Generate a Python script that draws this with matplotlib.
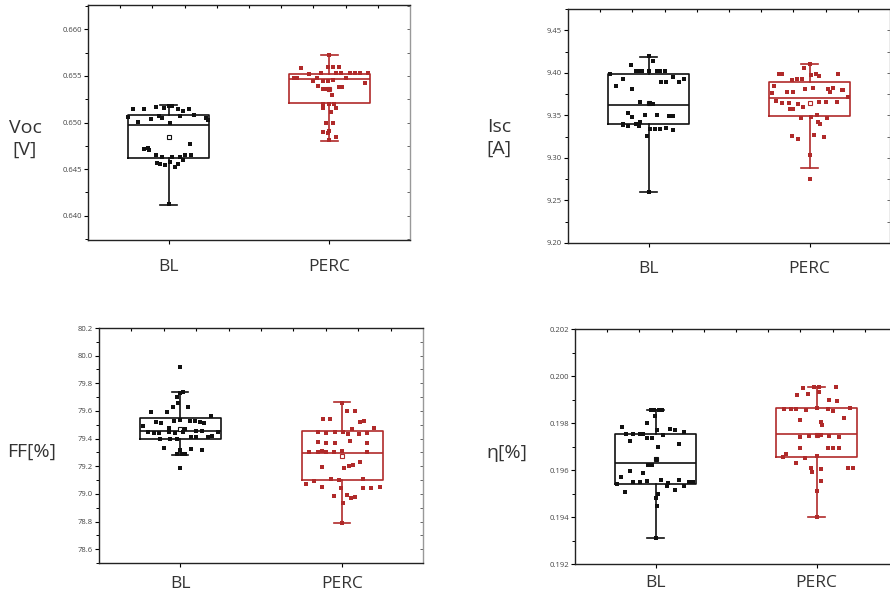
import matplotlib
matplotlib.use("Agg")
import matplotlib.pyplot as plt
import numpy as np
from matplotlib.ticker import MultipleLocator, FormatStrFormatter

plt.rcParams['font.family'] = ['Open Sans', 'DejaVu Sans']

groups = ["BL", "PERC"]
black = "#111111"
red = "#b02a2a"

# box statistics: (whislo, q1, med, q3, whishi, mean)
voc_stats = [(0.6412, 0.6462, 0.6497, 0.6508, 0.6519, 0.6484),
             (0.6480, 0.6521, 0.6547, 0.6552, 0.6572, 0.6536)]
isc_stats = [(9.2603, 9.3394, 9.3617, 9.3981, 9.4188, 9.3648),
             (9.2885, 9.3492, 9.3700, 9.3894, 9.4102, 9.3641)]
ff_stats = [(79.284, 79.400, 79.453, 79.550, 79.738, 79.472),
            (78.789, 79.098, 79.296, 79.453, 79.663, 79.277)]
eta_stats = [(0.19312, 0.19542, 0.19630, 0.19755, 0.19854, 0.19645),
             (0.19402, 0.19654, 0.19755, 0.19862, 0.19954, 0.19747)]

# individual cells: value and sideways jitter (in category units)
voc_bl = [0.6515, 0.6515, 0.6517, 0.6516, 0.6518, 0.6518, 0.6515, 0.6512, 0.6515, 0.6506,
          0.6501, 0.6504, 0.6505, 0.6507, 0.6499, 0.6507, 0.6508, 0.6505, 0.6503, 0.6472,
          0.6473, 0.6471, 0.6477, 0.6465, 0.6465, 0.6465, 0.6463, 0.6463, 0.6463, 0.6457,
          0.6455, 0.6454, 0.6458, 0.6452, 0.6455, 0.6460, 0.6413]
voc_bl_dx = [-0.22, -0.15, -0.08, -0.03, 0.0, 0.02, 0.06, 0.09, 0.125, -0.25,
             -0.19, -0.11, -0.04, -0.06, 0.01, 0.07, 0.16, 0.23, 0.245, -0.15,
             -0.13, -0.12, 0.135, 0.10, 0.14, -0.08, -0.04, 0.02, 0.07, -0.07,
             -0.05, -0.02, 0.01, 0.04, 0.06, 0.09, 0.0]
voc_perc = [0.6572, 0.6560, 0.6560, 0.6559, 0.6558, 0.6553, 0.6553, 0.6553, 0.6553, 0.6553,
            0.6553, 0.6553, 0.6552, 0.6548, 0.6548, 0.6548, 0.6545, 0.6545, 0.6544, 0.6546,
            0.6548, 0.6539, 0.6536, 0.6536, 0.6535, 0.6538, 0.6538, 0.6542, 0.6530, 0.6520,
            0.6520, 0.6520, 0.6516, 0.6516, 0.6511, 0.6500, 0.6500, 0.6490, 0.6489, 0.6491,
            0.6484, 0.6481]
voc_perc_dx = [0.0, -0.01, 0.02, 0.06, -0.18, -0.05, 0.04, 0.07, 0.125, 0.16,
               0.19, 0.24, -0.13, -0.22, -0.20, -0.08, -0.10, -0.04, -0.01, 0.02,
               0.10, -0.07, -0.04, -0.02, 0.0, 0.06, 0.08, 0.22, 0.015, -0.04,
               0.0, 0.03, 0.04, -0.04, 0.01, 0.02, -0.02, -0.04, -0.01, 0.0,
               0.04, 0.0]

isc_bl = [9.4195, 9.4137, 9.4090, 9.4016, 9.4016, 9.4016, 9.4018, 9.4020, 9.4020, 9.4025,
          9.3990, 9.3926, 9.3848, 9.3809, 9.3891, 9.3889, 9.3891, 9.3926, 9.3950, 9.3655,
          9.3640, 9.3630, 9.3530, 9.3480, 9.3504, 9.3510, 9.3490, 9.3490, 9.3400, 9.3390,
          9.3374, 9.3374, 9.3395, 9.3418, 9.3335, 9.3345, 9.3345, 9.3350, 9.3330, 9.3260,
          9.2603]
isc_bl_dx = [0.0, 0.03, -0.11, -0.08, -0.06, -0.04, 0.0, 0.05, 0.07, 0.10,
             -0.24, -0.16, -0.20, -0.10, 0.08, 0.11, 0.19, 0.22, 0.15, -0.05,
             0.01, 0.03, -0.13, -0.10, -0.02, 0.05, 0.13, 0.15, -0.16, -0.16,
             -0.13, -0.06, -0.08, -0.05, 0.01, 0.04, 0.07, 0.11, 0.15, -0.01,
             0.0]
isc_perc = [9.4102, 9.4051, 9.3980, 9.3990, 9.3965, 9.3990, 9.3990, 9.3985, 9.3920, 9.3925,
            9.3925, 9.3850, 9.3758, 9.3780, 9.3776, 9.3810, 9.3820, 9.3808, 9.3820, 9.3780,
            9.3795, 9.3800, 9.3710, 9.3670, 9.3640, 9.3645, 9.3630, 9.3570, 9.3580, 9.3600,
            9.3660, 9.3660, 9.3660, 9.3500, 9.3470, 9.3480, 9.3470, 9.3400, 9.3425, 9.3260,
            9.3220, 9.3270, 9.3240, 9.3034, 9.2752]
isc_perc_dx = [0.0, -0.035, 0.01, 0.04, 0.06, 0.18, -0.19, -0.17, -0.11, -0.08,
               -0.045, -0.22, -0.23, -0.14, -0.10, -0.03, 0.02, 0.115, 0.145, 0.13,
               0.20, 0.21, 0.24, -0.21, -0.17, -0.13, -0.07, -0.12, -0.10, -0.04,
               0.06, 0.10, 0.17, 0.045, -0.05, 0.01, 0.11, 0.065, 0.05, -0.11,
               -0.07, 0.03, 0.09, 0.0, 0.0]

ff_bl = [79.92, 79.73, 79.74, 79.70, 79.66, 79.63, 79.625, 79.59, 79.59, 79.52,
         79.515, 79.53, 79.535, 79.53, 79.53, 79.52, 79.56, 79.51, 79.48, 79.47,
         79.49, 79.445, 79.44, 79.44, 79.45, 79.44, 79.445, 79.455, 79.455, 79.45,
         79.42, 79.40, 79.395, 79.40, 79.41, 79.415, 79.41, 79.33, 79.325, 79.32,
         79.32, 79.285, 79.285, 79.285, 79.19]
ff_bl_dx = [0.0, 0.0, 0.02, -0.02, -0.01, -0.045, 0.05, -0.08, -0.18, -0.15,
            -0.115, -0.04, 0.0, 0.06, 0.095, 0.125, 0.19, 0.15, -0.07, 0.03,
            -0.23, -0.20, -0.16, -0.13, -0.07, -0.03, 0.02, 0.10, 0.135, 0.235,
            0.20, -0.125, -0.06, -0.02, 0.07, 0.10, 0.17, -0.10, 0.07, 0.135,
            0.0, -0.02, 0.01, 0.03, 0.0]
ff_perc = [79.66, 79.60, 79.60, 79.54, 79.545, 79.52, 79.53, 79.47, 79.48, 79.445,
           79.44, 79.45, 79.445, 79.43, 79.43, 79.44, 79.375, 79.37, 79.37, 79.38,
           79.37, 79.30, 79.30, 79.30, 79.305, 79.30, 79.31, 79.31, 79.195, 79.19,
           79.20, 79.21, 79.23, 79.11, 79.10, 79.11, 79.075, 79.09, 79.05, 79.04,
           79.04, 79.045, 79.05, 78.985, 78.99, 78.97, 78.98, 78.935, 78.79]
ff_perc_dx = [0.0, 0.03, 0.08, -0.12, -0.075, 0.11, 0.135, 0.06, 0.20, -0.15,
              -0.10, -0.045, 0.005, 0.035, 0.105, 0.155, -0.15, -0.10, -0.045, 0.05,
              0.155, -0.205, -0.15, -0.10, -0.05, 0.155, -0.125, 0.0, -0.125, 0.015,
              0.045, 0.065, 0.11, -0.07, -0.02, 0.13, -0.22, -0.17, -0.125, -0.005,
              0.13, 0.18, 0.235, -0.05, 0.03, 0.055, 0.08, 0.005, 0.0]

eta_bl = [0.19854, 0.19854, 0.19854, 0.19854, 0.19830, 0.19800, 0.19783, 0.19770, 0.19775, 0.19770,
          0.19762, 0.19755, 0.19755, 0.19755, 0.19755, 0.19737, 0.19737, 0.19747, 0.19722, 0.19710,
          0.19697, 0.19645, 0.19620, 0.19620, 0.19597, 0.19588, 0.19570, 0.19550, 0.19548, 0.19555,
          0.19558, 0.19545, 0.19558, 0.19550, 0.19550, 0.19540, 0.19530, 0.19515, 0.19530, 0.19505,
          0.19500, 0.19480, 0.19448, 0.19312]
eta_bl_dx = [-0.03, -0.01, 0.02, 0.04, -0.005, -0.055, -0.21, 0.01, 0.09, 0.12,
             0.18, -0.185, -0.14, -0.095, -0.075, -0.05, -0.02, 0.045, -0.16, 0.145,
             0.015, 0.0, -0.045, -0.02, -0.16, -0.075, -0.215, -0.14, -0.095, -0.05,
             0.035, 0.08, 0.145, 0.205, 0.235, -0.24, 0.07, 0.12, 0.175, -0.19,
             0.015, 0.0, 0.01, 0.0]
eta_perc = [0.19954, 0.19954, 0.19950, 0.19952, 0.19930, 0.19920, 0.19922, 0.19899, 0.19895, 0.19860,
            0.19860, 0.19860, 0.19855, 0.19862, 0.19860, 0.19862, 0.19850, 0.19812, 0.19805, 0.19790,
            0.19820, 0.19750, 0.19745, 0.19750, 0.19745, 0.19740, 0.19740, 0.19693, 0.19693, 0.19693,
            0.19693, 0.19670, 0.19655, 0.19630, 0.19650, 0.19660, 0.19610, 0.19605, 0.19590, 0.19610,
            0.19610, 0.19555, 0.19510, 0.19402]
eta_perc_dx = [-0.015, 0.015, -0.085, 0.12, 0.015, -0.12, -0.05, 0.08, 0.13, -0.20,
               -0.16, -0.13, -0.065, 0.0, 0.07, 0.205, 0.10, -0.105, 0.03, 0.035,
               0.17, 0.0, -0.045, 0.03, 0.08, 0.14, -0.10, -0.10, 0.07, 0.10,
               0.14, -0.19, -0.205, -0.13, -0.07, 0.0, -0.035, 0.03, -0.03, 0.195,
               0.225, 0.03, 0.005, 0.0]

W, H = 890, 599
fig = plt.figure(figsize=(W / 100, H / 100), dpi=100)


def add_ax(left, top, right, bottom):
    return fig.add_axes([left / W, 1 - bottom / H, (right - left) / W, (bottom - top) / H])


def panel(ax, stats, pts, ylim, major, fmt, xpad=12):
    colors = [black, red]
    for i, (st, (vals, dx)) in enumerate(zip(stats, pts)):
        c = colors[i]
        d = dict(whislo=st[0], q1=st[1], med=st[2], q3=st[3], whishi=st[4], mean=st[5], fliers=[])
        ax.bxp([d], positions=[i + 1], widths=0.5, showmeans=True, showfliers=False,
               capwidths=0.1,
               boxprops=dict(color=c, lw=1.2),
               medianprops=dict(color=c, lw=1.2),
               whiskerprops=dict(color=c, lw=1.2),
               capprops=dict(color=c, lw=1.2),
               meanprops=dict(marker="s", markerfacecolor="white", markeredgecolor=c,
                              markersize=3.5, markeredgewidth=0.8))
        ax.scatter(i + 1 + np.array(dx), vals, marker="s", s=6, color=c, lw=0, zorder=3)
    ax.set_xlim(0.5, 2.5)
    ax.set_ylim(*ylim)
    ax.set_xticks([1, 2])
    ax.set_xticklabels(groups, fontsize=12.5, color="#333333")
    ax.tick_params(axis="x", which="major", direction="out", length=3, width=0.8, pad=xpad,
                   top=False)
    ax.yaxis.set_major_locator(MultipleLocator(major))
    ax.yaxis.set_minor_locator(MultipleLocator(major / 2))
    ax.yaxis.set_major_formatter(FormatStrFormatter(fmt))
    ax.tick_params(axis="y", which="major", direction="out", length=3, width=0.8,
                   labelsize=5.5, labelcolor="#444444", pad=1.5, right=False)
    ax.tick_params(axis="y", which="minor", direction="out", length=2, width=0.7, right=False)
    for s in ax.spines.values():
        s.set_linewidth(1.0)
        s.set_color("#222222")
    ax.spines["right"].set_color("#999999")
    # inward ticks on the top and right edges, as in the original plot
    sec = ax.secondary_xaxis("top")
    sec.set_xticks(np.arange(0.7, 2.45, 0.2))
    sec.tick_params(direction="in", length=2.5, width=0.8, labeltop=False)
    sec.spines["top"].set_visible(False)
    sy = ax.secondary_yaxis("right")
    sy.yaxis.set_major_locator(MultipleLocator(major))
    sy.yaxis.set_minor_locator(MultipleLocator(major / 2))
    sy.tick_params(which="both", direction="in", length=2.5, width=0.7, colors="#666666",
                   labelright=False)
    sy.spines["right"].set_visible(False)


ax1 = add_ax(88, 5, 410, 240)
panel(ax1, voc_stats, [(voc_bl, voc_bl_dx), (voc_perc, voc_perc_dx)],
      (0.6374, 0.6626), 0.005, "%.3f", xpad=11)
ax2 = add_ax(568, 9, 890, 243)
panel(ax2, isc_stats, [(isc_bl, isc_bl_dx), (isc_perc, isc_perc_dx)],
      (9.20, 9.475), 0.05, "%.2f", xpad=10)
ax3 = add_ax(99, 328, 423, 563)
panel(ax3, ff_stats, [(ff_bl, ff_bl_dx), (ff_perc, ff_perc_dx)],
      (78.5, 80.2), 0.2, "%.1f", xpad=6)
ax4 = add_ax(575, 329, 897, 564)
panel(ax4, eta_stats, [(eta_bl, eta_bl_dx), (eta_perc, eta_perc_dx)],
      (0.192, 0.202), 0.002, "%.3f", xpad=5)

lab = dict(fontsize=14, color="#333333", ha="center", va="center", linespacing=1.3)
fig.text(25 / W, 1 - 139 / H, "Voc\n[V]", **lab)
fig.text(499 / W, 1 - 138 / H, "Isc\n[A]", **lab)
fig.text(32 / W, 1 - 452 / H, "FF[%]", **lab)
fig.text(507 / W, 1 - 453 / H, "η[%]", **lab)

fig.savefig("out.png", dpi=100)
